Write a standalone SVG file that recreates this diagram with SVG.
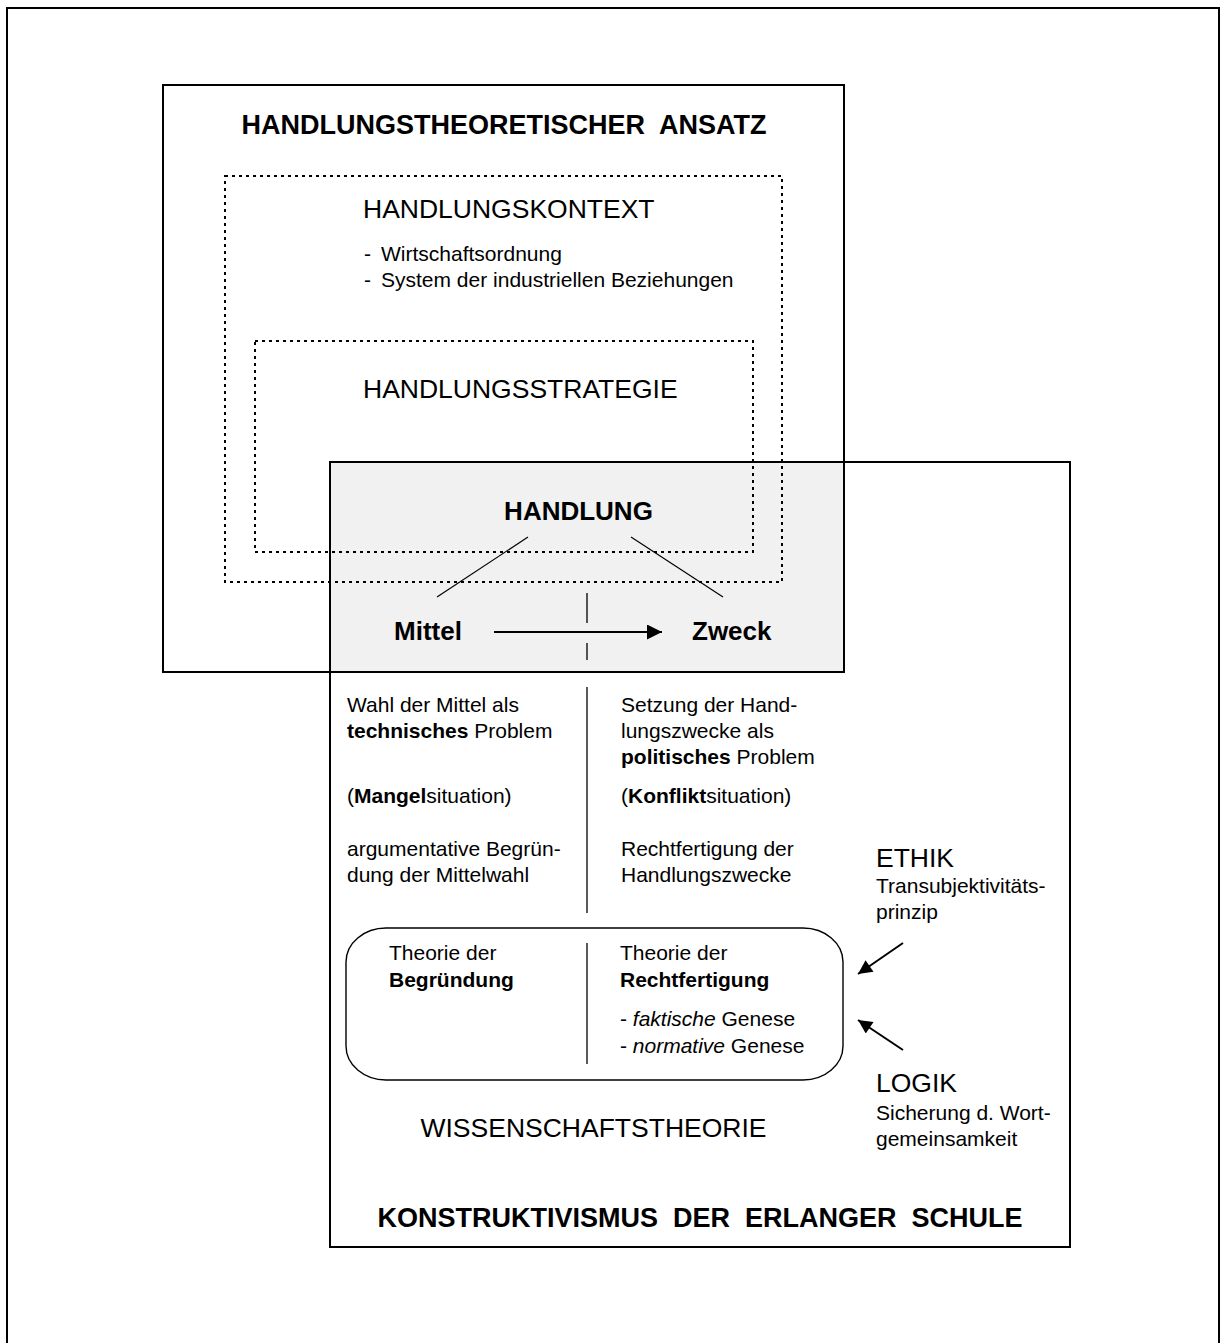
<svg xmlns="http://www.w3.org/2000/svg" width="1220" height="1343" viewBox="0 0 1220 1343">
<style>
text{font-family:"Liberation Sans",Arial,sans-serif;fill:#000}
.h{font-size:26.5px}
.t{font-size:21px}
.bb{font-weight:bold}
.pre{white-space:pre}
.frame{fill:none;stroke:#000;stroke-width:2}
.dot{fill:none;stroke:#000;stroke-width:2;stroke-dasharray:3 4}
.thin{fill:none;stroke:#000;stroke-width:1.2}
.div{fill:none;stroke:#000;stroke-width:1.3}
.arr{fill:none;stroke:#000;stroke-width:2}
</style>
<defs>
<marker id="ah" viewBox="0 0 10 10" refX="10" refY="5" orient="auto" markerUnits="userSpaceOnUse" markerWidth="19" markerHeight="15"><path d="M0,0 L10,5 L0,10 z" fill="#000"/></marker>
<marker id="ah2" viewBox="0 0 10 10" refX="10" refY="5" orient="auto" markerUnits="userSpaceOnUse" markerWidth="17" markerHeight="14"><path d="M0,0 L10,5 L0,10 z" fill="#000"/></marker>
</defs>
<rect width="1220" height="1343" fill="#fff"/>
<g id="outer-frame"><rect class="frame" x="7" y="8" width="1212" height="1340"/></g>
<g id="gray-overlap"><rect x="330" y="462" width="514" height="210" fill="#f1f1f1"/></g>
<g id="handlungstheoretischer-ansatz">
<rect class="frame" x="163" y="85" width="681" height="587"/>
<text class="bb pre" x="504" y="134" text-anchor="middle" style="font-size:27px">HANDLUNGSTHEORETISCHER  ANSATZ</text>
</g>
<g id="handlungskontext">
<rect class="dot" x="225" y="176" width="557" height="406"/>
<text class="h" x="363" y="218">HANDLUNGSKONTEXT</text>
<text class="t" x="364" y="261">-</text><text class="t" x="381" y="261">Wirtschaftsordnung</text>
<text class="t" x="364" y="287">-</text><text class="t" x="381" y="287">System der industriellen Beziehungen</text>
</g>
<g id="handlungsstrategie">
<rect class="dot" x="255" y="341" width="498" height="211"/>
<text class="h" x="363" y="398">HANDLUNGSSTRATEGIE</text>
</g>
<g id="konstruktivismus">
<rect class="frame" x="330" y="462" width="740" height="785"/>
<text class="bb pre" x="700" y="1227" text-anchor="middle" style="font-size:27px">KONSTRUKTIVISMUS  DER  ERLANGER  SCHULE</text>
</g>
<g id="handlung"><text class="bb" x="578.5" y="520" text-anchor="middle" style="font-size:26px">HANDLUNG</text></g>
<g id="mittel"><text class="bb" x="394" y="640" style="font-size:26px">Mittel</text></g>
<g id="zweck"><text class="bb" x="692" y="640" style="font-size:26px">Zweck</text></g>
<g id="col-left">
<text class="t" x="347" y="712">Wahl der Mittel als</text>
<text class="t" x="347" y="738"><tspan class="bb">technisches</tspan> Problem</text>
<text class="t" x="347" y="803">(<tspan class="bb">Mangel</tspan>situation)</text>
<text class="t" x="347" y="856">argumentative Begrün-</text>
<text class="t" x="347" y="882">dung der Mittelwahl</text>
</g>
<g id="col-right">
<text class="t" x="621" y="712">Setzung der Hand-</text>
<text class="t" x="621" y="738">lungszwecke als</text>
<text class="t" x="621" y="764"><tspan class="bb">politisches</tspan> Problem</text>
<text class="t" x="621" y="803">(<tspan class="bb">Konflikt</tspan>situation)</text>
<text class="t" x="621" y="856">Rechtfertigung der</text>
<text class="t" x="621" y="882">Handlungszwecke</text>
</g>
<g id="theorie-box">
<rect x="346" y="928" width="497" height="152" rx="40" ry="34" fill="none" stroke="#000" stroke-width="1.4"/>
<text class="t" x="389" y="960">Theorie der</text>
<text class="t bb" x="389" y="987">Begründung</text>
<text class="t" x="620" y="960">Theorie der</text>
<text class="t bb" x="620" y="987">Rechtfertigung</text>
<text class="t" x="620" y="1026">- <tspan font-style="italic">faktische</tspan> Genese</text>
<text class="t" x="620" y="1053">- <tspan font-style="italic">normative</tspan> Genese</text>
</g>
<g id="wissenschaftstheorie"><text class="h" x="593.5" y="1137" text-anchor="middle">WISSENSCHAFTSTHEORIE</text></g>
<g id="ethik">
<text class="h" x="876" y="867">ETHIK</text>
<text class="t" x="876" y="893">Transubjektivitäts-</text>
<text class="t" x="876" y="919">prinzip</text>
</g>
<g id="logik">
<text class="h" x="876" y="1092">LOGIK</text>
<text class="t" x="876" y="1120">Sicherung d. Wort-</text>
<text class="t" x="876" y="1146">gemeinsamkeit</text>
</g>
<g id="connectors">
<line class="thin" x1="528" y1="537" x2="437" y2="597"/>
<line class="thin" x1="631" y1="537" x2="723" y2="597"/>
<line class="arr" x1="494" y1="632" x2="662" y2="632" marker-end="url(#ah)"/>
<line class="div" x1="587" y1="593" x2="587" y2="660" stroke-dasharray="30 20"/>
<line class="div" x1="587" y1="687" x2="587" y2="913"/>
<line class="div" x1="587" y1="943" x2="587" y2="1064"/>
<line class="arr" x1="903" y1="943" x2="858" y2="974" stroke-width="1.6" marker-end="url(#ah2)"/>
<line class="arr" x1="903" y1="1050" x2="858" y2="1020" stroke-width="1.6" marker-end="url(#ah2)"/>
</g>
</svg>
